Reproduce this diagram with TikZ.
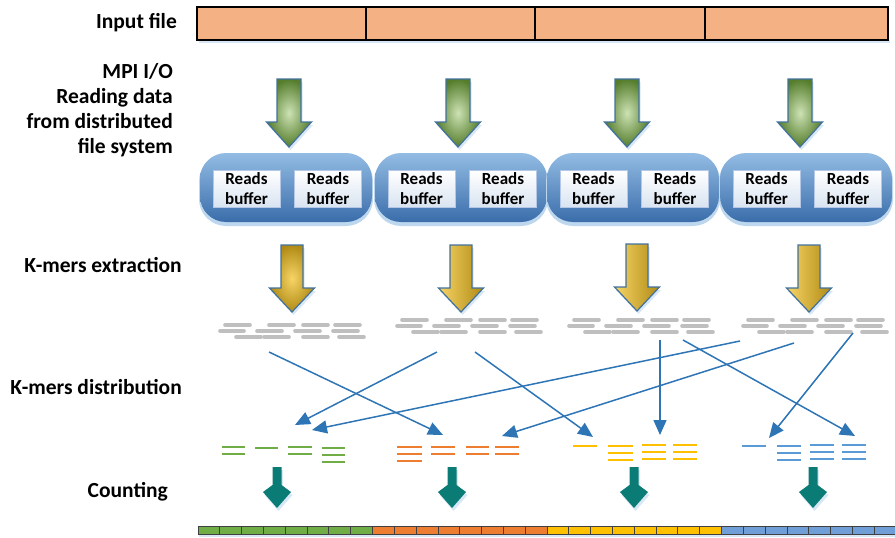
\documentclass[tikz,border=0pt]{standalone}
\usepackage{fontspec}
\setmainfont{Carlito}
\usetikzlibrary{arrows.meta,positioning,calc}

\definecolor{inputfill}{HTML}{F4B183}
\definecolor{flowblue}{HTML}{2E75B6}
\definecolor{outlineblue}{HTML}{41719C}
\definecolor{shadowblue}{HTML}{BDD7EE}
\definecolor{pilltop}{HTML}{93BCE4}
\definecolor{pillmid}{HTML}{5E92CB}
\definecolor{pillbot}{HTML}{3A6DAA}
\definecolor{bufline}{HTML}{B4C7E7}
\definecolor{bufbot}{HTML}{D9E4F1}
\definecolor{greendark}{HTML}{557D2C}
\definecolor{greenlight}{HTML}{CDE2B4}
\definecolor{golddark}{HTML}{B08A14}
\definecolor{goldlight}{HTML}{F6D466}
\definecolor{teal}{HTML}{0B7B76}
\definecolor{kmergray}{HTML}{BFBFBF}
\definecolor{binGreen}{HTML}{70AD47}
\definecolor{binOrange}{HTML}{ED7D31}
\definecolor{binYellow}{HTML}{FFC000}
\definecolor{binBlue}{HTML}{5B9BD5}
\definecolor{barBlue}{HTML}{6F9FD6}

\tikzset{
  steplabel/.style={font=\bfseries\fontsize{21.5}{25}\selectfont, inner sep=0pt, anchor=east, align=right},
  readsbuf/.style={draw=bufline, top color=white, bottom color=bufbot, minimum width=67pt, minimum height=37pt,
    inner sep=0pt, align=center, font=\bfseries\fontsize{17}{20}\selectfont},
  greenarrow/.style={draw=outlineblue, line width=1.2pt, inner color=greenlight, outer color=greendark},
  goldround/.style={draw=outlineblue, line width=1.2pt, inner color=goldlight, outer color=golddark},
  goldside/.style={draw=outlineblue, line width=1.2pt, left color=goldlight, right color=golddark},
  arrowshadow/.style={fill=shadowblue, opacity=0.6},
  kmer/.style={kmergray, line width=3.6pt, line cap=round},
  binline/.style={line width=2.5pt},
  flow/.style={flowblue, line width=1.5pt, -{Triangle[length=15pt,width=13pt]}},
  cellline/.style={draw=black!75, line width=0.8pt}
}

% fat arrow: style, centre x, top, head start, tip, shaft half width, head half width
\newcommand{\bigdown}[7]{%
  \fill[arrowshadow] ({#2-#6+1.5},{#3+3}) -- ({#2+#6+1.5},{#3+3}) -- ({#2+#6+1.5},{#4+3}) -- ({#2+#7+1.5},{#4+3})
    -- ({#2+1.5},{#5+3}) -- ({#2-#7+1.5},{#4+3}) -- ({#2-#6+1.5},{#4+3}) -- cycle;
  \shadedraw[#1] ({#2-#6},#3) -- ({#2+#6},#3) -- ({#2+#6},#4) -- ({#2+#7},#4) -- (#2,#5)
    -- ({#2-#7},#4) -- ({#2-#6},#4) -- cycle;}

% counting arrow at centre x
\newcommand{\countdown}[1]{%
  \fill[arrowshadow] ({#1-3},470) -- ({#1+6},470) -- ({#1+6},488) -- ({#1+15.5},495) -- ({#1+1.5},511)
    -- ({#1-12.5},495) -- ({#1-3},488) -- cycle;
  \fill[teal] ({#1-4.5},467) -- ({#1+4.5},467) -- ({#1+4.5},485) -- ({#1+14},492) -- (#1,508)
    -- ({#1-14},492) -- ({#1-4.5},485) -- cycle;}

% gray k-mers under an arrow: base x, base y
\newcommand{\kmergroup}[2]{%
  \foreach \a/\b/\r in {5/30/-6, 49/74/-6, 83/108/-6, 115/140/-6,
                        0/24/0, 37/62/0, 75/100/0, 113/138/0,
                        16/41/6, 44/69/6, 83/108/6, 119/144/6}
    \draw[kmer] ({#1+\a},{#2+\r}) -- ({#1+\b},{#2+\r});}

% one column of a bin: x1, x2, count, top y, colour
\newcommand{\binlines}[5]{%
  \foreach \k in {1,...,#3}
    \draw[binline, #5] (#1,{#4+7*(\k-1)}) -- (#2,{#4+7*(\k-1)});}

\begin{document}
\begin{tikzpicture}[x=1pt, y=-1pt]
    \useasboundingbox (0,0) rectangle (895,538);

    % Labels
    \node[steplabel] (lblinput) at (177,23) {Input file};
    \node[steplabel] (lblmpi) at (173,110) {MPI I/O\\Reading data\\from distributed\\file system};
    \node[steplabel] (lblext) at (182,265) {K-mers extraction};
    \node[steplabel] (lbldist) at (182,387) {K-mers distribution};
    \node[steplabel] (lblcount) at (168,492) {Counting};

    % Input file
    \fill[arrowshadow] (199,40) rectangle (890,43);
    \draw[fill=inputfill, line width=1.4pt] (197,7) rectangle (888,40);
    \foreach \x in {366,535,705}
        \draw[line width=1.4pt] (\x,7) -- (\x,40);

    % MPI I/O
    \bigdown{greenarrow}{289}{79}{122}{147}{12}{22.5}
    \bigdown{greenarrow}{458}{79}{122}{147}{12}{22.5}
    \bigdown{greenarrow}{627}{79}{122}{147}{12}{22.5}
    \bigdown{greenarrow}{800}{79}{122}{147}{12}{22.5}

    % Reads buffers
    \foreach \p [count=\i] in {200,375,547,720} {
        \fill[shadowblue, rounded corners=27pt] ({\p-1},154) rectangle ({\p+173},226);
        \shade[top color=pilltop, middle color=pillmid, bottom color=pillbot, rounded corners=26pt]
            (\p,153) rectangle ({\p+172},222);
        \node[readsbuf] (buf\i a) at ({\p+46.5},188.5) {Reads\\buffer};
        \node[readsbuf] (buf\i b) at ({\p+128},188.5) {Reads\\buffer};
    }

    % K-mers extraction
    \bigdown{goldround}{292}{245}{288}{312}{11}{22.5}
    \bigdown{goldside}{461}{245}{288}{312}{11}{22.5}
    \bigdown{goldside}{637}{244}{287}{311}{11}{22.5}
    \bigdown{goldside}{809}{245}{288}{312}{11}{22.5}

    \kmergroup{220}{331}
    \kmergroup{397}{326}
    \kmergroup{569}{326}
    \kmergroup{743}{326}

    % K-mers distribution
    \coordinate (src1a) at (269,352);
    \coordinate (src2a) at (437,352);
    \coordinate (src2b) at (475,352);
    \coordinate (src3a) at (660,340);
    \coordinate (src3b) at (683,340);
    \coordinate (src4a) at (740,341);
    \coordinate (src4b) at (794,343);
    \coordinate (src4c) at (853,333);
    \coordinate (binG1) at (295,425);
    \coordinate (binG2) at (312,430);
    \coordinate (binO1) at (443,435);
    \coordinate (binO2) at (502,436);
    \coordinate (binY1) at (593,437);
    \coordinate (binY2) at (660,435);
    \coordinate (binB1) at (769,438);
    \coordinate (binB2) at (855,436);

    \draw[flow] (src1a) -- (binO1);
    \draw[flow] (src2a) -- (binG1);
    \draw[flow] (src2b) -- (binY1);
    \draw[flow] (src3a) -- (binY2);
    \draw[flow] (src3b) -- (binB2);
    \draw[flow] (src4a) -- (binG2);
    \draw[flow] (src4b) -- (binO2);
    \draw[flow] (src4c) -- (binB1);

    % Bins
    \binlines{222}{245}{2}{447}{binGreen}
    \binlines{255}{278}{1}{448}{binGreen}
    \binlines{288}{312}{2}{447}{binGreen}
    \binlines{322}{345}{3}{448}{binGreen}
    \binlines{397}{422}{3}{447}{binOrange}
    \binlines{431}{455}{2}{447}{binOrange}
    \binlines{466}{489}{2}{447}{binOrange}
    \binlines{495}{519}{2}{447}{binOrange}
    \binlines{573}{597}{1}{446}{binYellow}
    \binlines{608}{633}{3}{446}{binYellow}
    \binlines{642}{666}{3}{445}{binYellow}
    \binlines{673}{697}{3}{445}{binYellow}
    \binlines{742}{766}{1}{446}{binBlue}
    \binlines{777}{801}{3}{446}{binBlue}
    \binlines{810}{834}{3}{445}{binBlue}
    \binlines{842}{866}{3}{445}{binBlue}

    % Counting
    \countdown{277}
    \countdown{452}
    \countdown{634}
    \countdown{813}

    \fill[arrowshadow] (199,534) rectangle (895,537);
    \foreach \c [count=\i from 0] in {binGreen,binOrange,binYellow,barBlue}
        \foreach \j in {0,...,7}
            \draw[cellline, fill=\c] ({198+174.5*\i+21.8*\j},526) rectangle +(21.8,8);
\end{tikzpicture}
\end{document}
